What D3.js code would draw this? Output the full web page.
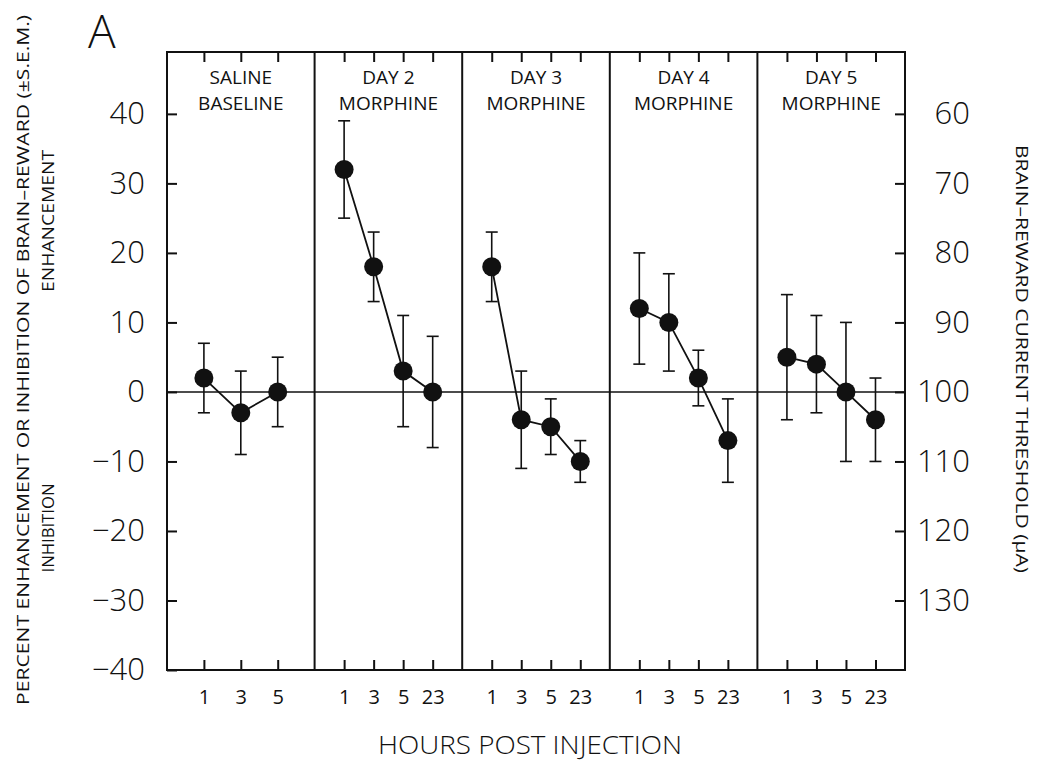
<!DOCTYPE html>
<html>
<head>
<meta charset="utf-8">
<script src="https://cdnjs.cloudflare.com/ajax/libs/d3/7.8.5/d3.min.js"></script>
<style>
  html, body { margin: 0; padding: 0; background: #fff; }
  svg { display: block; }
  text { font-family: "Open Sans", "Liberation Sans", sans-serif; font-weight: 400; fill: #111; }
  text.light { font-weight: 300; }
</style>
</head>
<body>
<svg id="chart" width="1050" height="762"></svg>
<script>
// ---------- data ----------
const panelIds = ["saline", "day2", "day3", "day4", "day5"];
const panelLine1 = ["SALINE", "DAY 2", "DAY 3", "DAY 4", "DAY 5"];
const panelLine2 = ["BASELINE", "MORPHINE", "MORPHINE", "MORPHINE", "MORPHINE"];

const hoursSaline = ["1", "3", "5"];
const hoursMorphine = ["1", "3", "5", "23"];

const salineMean = [2, -3, 0];
const salineSem  = [5, 6, 5];
const day2Mean = [32, 18, 3, 0];
const day2Sem  = [7, 5, 8, 8];
const day3Mean = [18, -4, -5, -10];
const day3Sem  = [5, 7, 4, 3];
const day4Mean = [12, 10, 2, -7];
const day4Sem  = [8, 7, 4, 6];
const day5Mean = [5, 4, 0, -4];
const day5Sem  = [9, 7, 10, 6];

const leftTicks = [40, 30, 20, 10, 0, -10, -20, -30, -40];
const rightTickValues = [40, 30, 20, 10, 0, -10, -20, -30];
const rightTickLabels = ["60", "70", "80", "90", "100", "110", "120", "130"];

const panelHours = [hoursSaline, hoursMorphine, hoursMorphine, hoursMorphine, hoursMorphine];
const panelMeans = [salineMean, day2Mean, day3Mean, day4Mean, day5Mean];
const panelSems  = [salineSem, day2Sem, day3Sem, day4Sem, day5Sem];

// ---------- layout ----------
const svg = d3.select("#chart");
const X0 = 167, X1 = 905, YT = 52, YB = 670;

const y = d3.scaleLinear().domain([-40, 48.9]).range([YB, YT]);
const outer = d3.scaleBand().domain(panelIds).range([X0, X1]).paddingInner(0).paddingOuter(0);

const ink = "#111";

// frame
svg.append("rect")
  .attr("x", X0).attr("y", YT)
  .attr("width", X1 - X0).attr("height", YB - YT)
  .attr("fill", "none").attr("stroke", ink).attr("stroke-width", 2);

// dividers
panelIds.slice(1).forEach(id => {
  svg.append("line")
    .attr("x1", outer(id)).attr("x2", outer(id))
    .attr("y1", YT).attr("y2", YB)
    .attr("stroke", ink).attr("stroke-width", 2);
});

// zero line
svg.append("line")
  .attr("x1", X0).attr("x2", X1)
  .attr("y1", y(0)).attr("y2", y(0))
  .attr("stroke", ink).attr("stroke-width", 1.6);

// left axis
const fmt = v => (v < 0 ? "\u2212" + Math.abs(v) : String(v));
const gl = svg.append("g").attr("transform", `translate(${X0},0)`)
  .call(d3.axisLeft(y).tickValues(leftTicks).tickSizeInner(-10).tickSizeOuter(0)
        .tickPadding(22).tickFormat(fmt));
gl.select(".domain").remove();
gl.selectAll(".tick line").attr("stroke", ink).attr("stroke-width", 2);
gl.selectAll(".tick text").attr("class", "light").attr("font-size", 31).attr("font-family", null).attr("fill", ink);

// right axis
const gr = svg.append("g").attr("transform", `translate(${X1},0)`)
  .call(d3.axisRight(y).tickValues(rightTickValues).tickSizeInner(-10).tickSizeOuter(0)
        .tickPadding(4).tickFormat((d, i) => rightTickLabels[i]));
gr.select(".domain").remove();
gr.selectAll(".tick line").attr("stroke", ink).attr("stroke-width", 2);
gr.selectAll(".tick text").attr("class", "light").attr("font-size", 31).attr("font-family", null)
  .attr("text-anchor", "end").attr("x", 65).attr("fill", ink);

// panels
panelIds.forEach((id, p) => {
  const x = d3.scalePoint().domain(panelHours[p])
    .range([outer(id), outer(id) + outer.bandwidth()]).padding(1);

  // bottom axis
  const gb = svg.append("g").attr("transform", `translate(0,${YB})`)
    .call(d3.axisBottom(x).tickSizeInner(-10).tickSizeOuter(0).tickPadding(20));
  gb.select(".domain").remove();
  gb.selectAll(".tick line").attr("stroke", ink).attr("stroke-width", 2);
  gb.selectAll(".tick text").attr("font-size", 20).attr("font-family", null).attr("fill", ink);

  // top axis (ticks only)
  const gt = svg.append("g").attr("transform", `translate(0,${YT})`)
    .call(d3.axisTop(x).tickSizeInner(-10).tickSizeOuter(0).tickFormat(""));
  gt.select(".domain").remove();
  gt.selectAll(".tick line").attr("stroke", ink).attr("stroke-width", 2);

  // panel title
  const cx = outer(id) + outer.bandwidth() / 2;
  svg.append("text").attr("x", cx).attr("y", 84)
    .attr("text-anchor", "middle").attr("font-size", 19).text(panelLine1[p]);
  svg.append("text").attr("x", cx).attr("y", 110)
    .attr("text-anchor", "middle").attr("font-size", 19).text(panelLine2[p]);

  const pts = panelHours[p].map((h, i) => ({ h, m: panelMeans[p][i], s: panelSems[p][i] }));

  // error bars
  const eb = svg.append("g").attr("stroke", ink).attr("stroke-width", 1.6);
  pts.forEach(d => {
    const cxp = x(d.h);
    eb.append("line").attr("x1", cxp).attr("x2", cxp).attr("y1", y(d.m + d.s)).attr("y2", y(d.m - d.s));
    eb.append("line").attr("x1", cxp - 6).attr("x2", cxp + 6).attr("y1", y(d.m + d.s)).attr("y2", y(d.m + d.s));
    eb.append("line").attr("x1", cxp - 6).attr("x2", cxp + 6).attr("y1", y(d.m - d.s)).attr("y2", y(d.m - d.s));
  });

  // connecting line
  svg.append("path").datum(pts)
    .attr("d", d3.line().x(d => x(d.h)).y(d => y(d.m)))
    .attr("fill", "none").attr("stroke", ink).attr("stroke-width", 1.8);

  // dots
  svg.append("g").selectAll("circle").data(pts).join("circle")
    .attr("cx", d => x(d.h)).attr("cy", d => y(d.m)).attr("r", 9.5).attr("fill", ink);
});

// panel letter
svg.append("text").attr("class", "light").attr("x", 88).attr("y", 48).attr("font-size", 46).text("A");

// left axis titles
svg.append("text")
  .attr("transform", "translate(29,360) rotate(-90)")
  .attr("text-anchor", "middle").attr("font-size", 17)
  .attr("textLength", 690).attr("lengthAdjust", "spacingAndGlyphs")
  .text("PERCENT ENHANCEMENT OR INHIBITION OF BRAIN\u2013REWARD (\u00B1S.E.M.)");
svg.append("text")
  .attr("transform", "translate(54,221) rotate(-90)")
  .attr("text-anchor", "middle").attr("font-size", 17)
  .attr("textLength", 142).attr("lengthAdjust", "spacingAndGlyphs")
  .text("ENHANCEMENT");
svg.append("text")
  .attr("transform", "translate(54,528) rotate(-90)")
  .attr("text-anchor", "middle").attr("font-size", 17)
  .attr("textLength", 89).attr("lengthAdjust", "spacingAndGlyphs")
  .text("INHIBITION");

// right axis title
svg.append("text")
  .attr("transform", "translate(1016,359) rotate(90)")
  .attr("text-anchor", "middle").attr("font-size", 17)
  .attr("textLength", 428).attr("lengthAdjust", "spacingAndGlyphs")
  .text("BRAIN\u2013REWARD CURRENT THRESHOLD (\u03BCA)");

// x axis title
svg.append("text").attr("class", "light").attr("x", 530).attr("y", 754)
  .attr("text-anchor", "middle").attr("font-size", 25)
  .attr("textLength", 304).attr("lengthAdjust", "spacingAndGlyphs")
  .text("HOURS POST INJECTION");
</script>
</body>
</html>
